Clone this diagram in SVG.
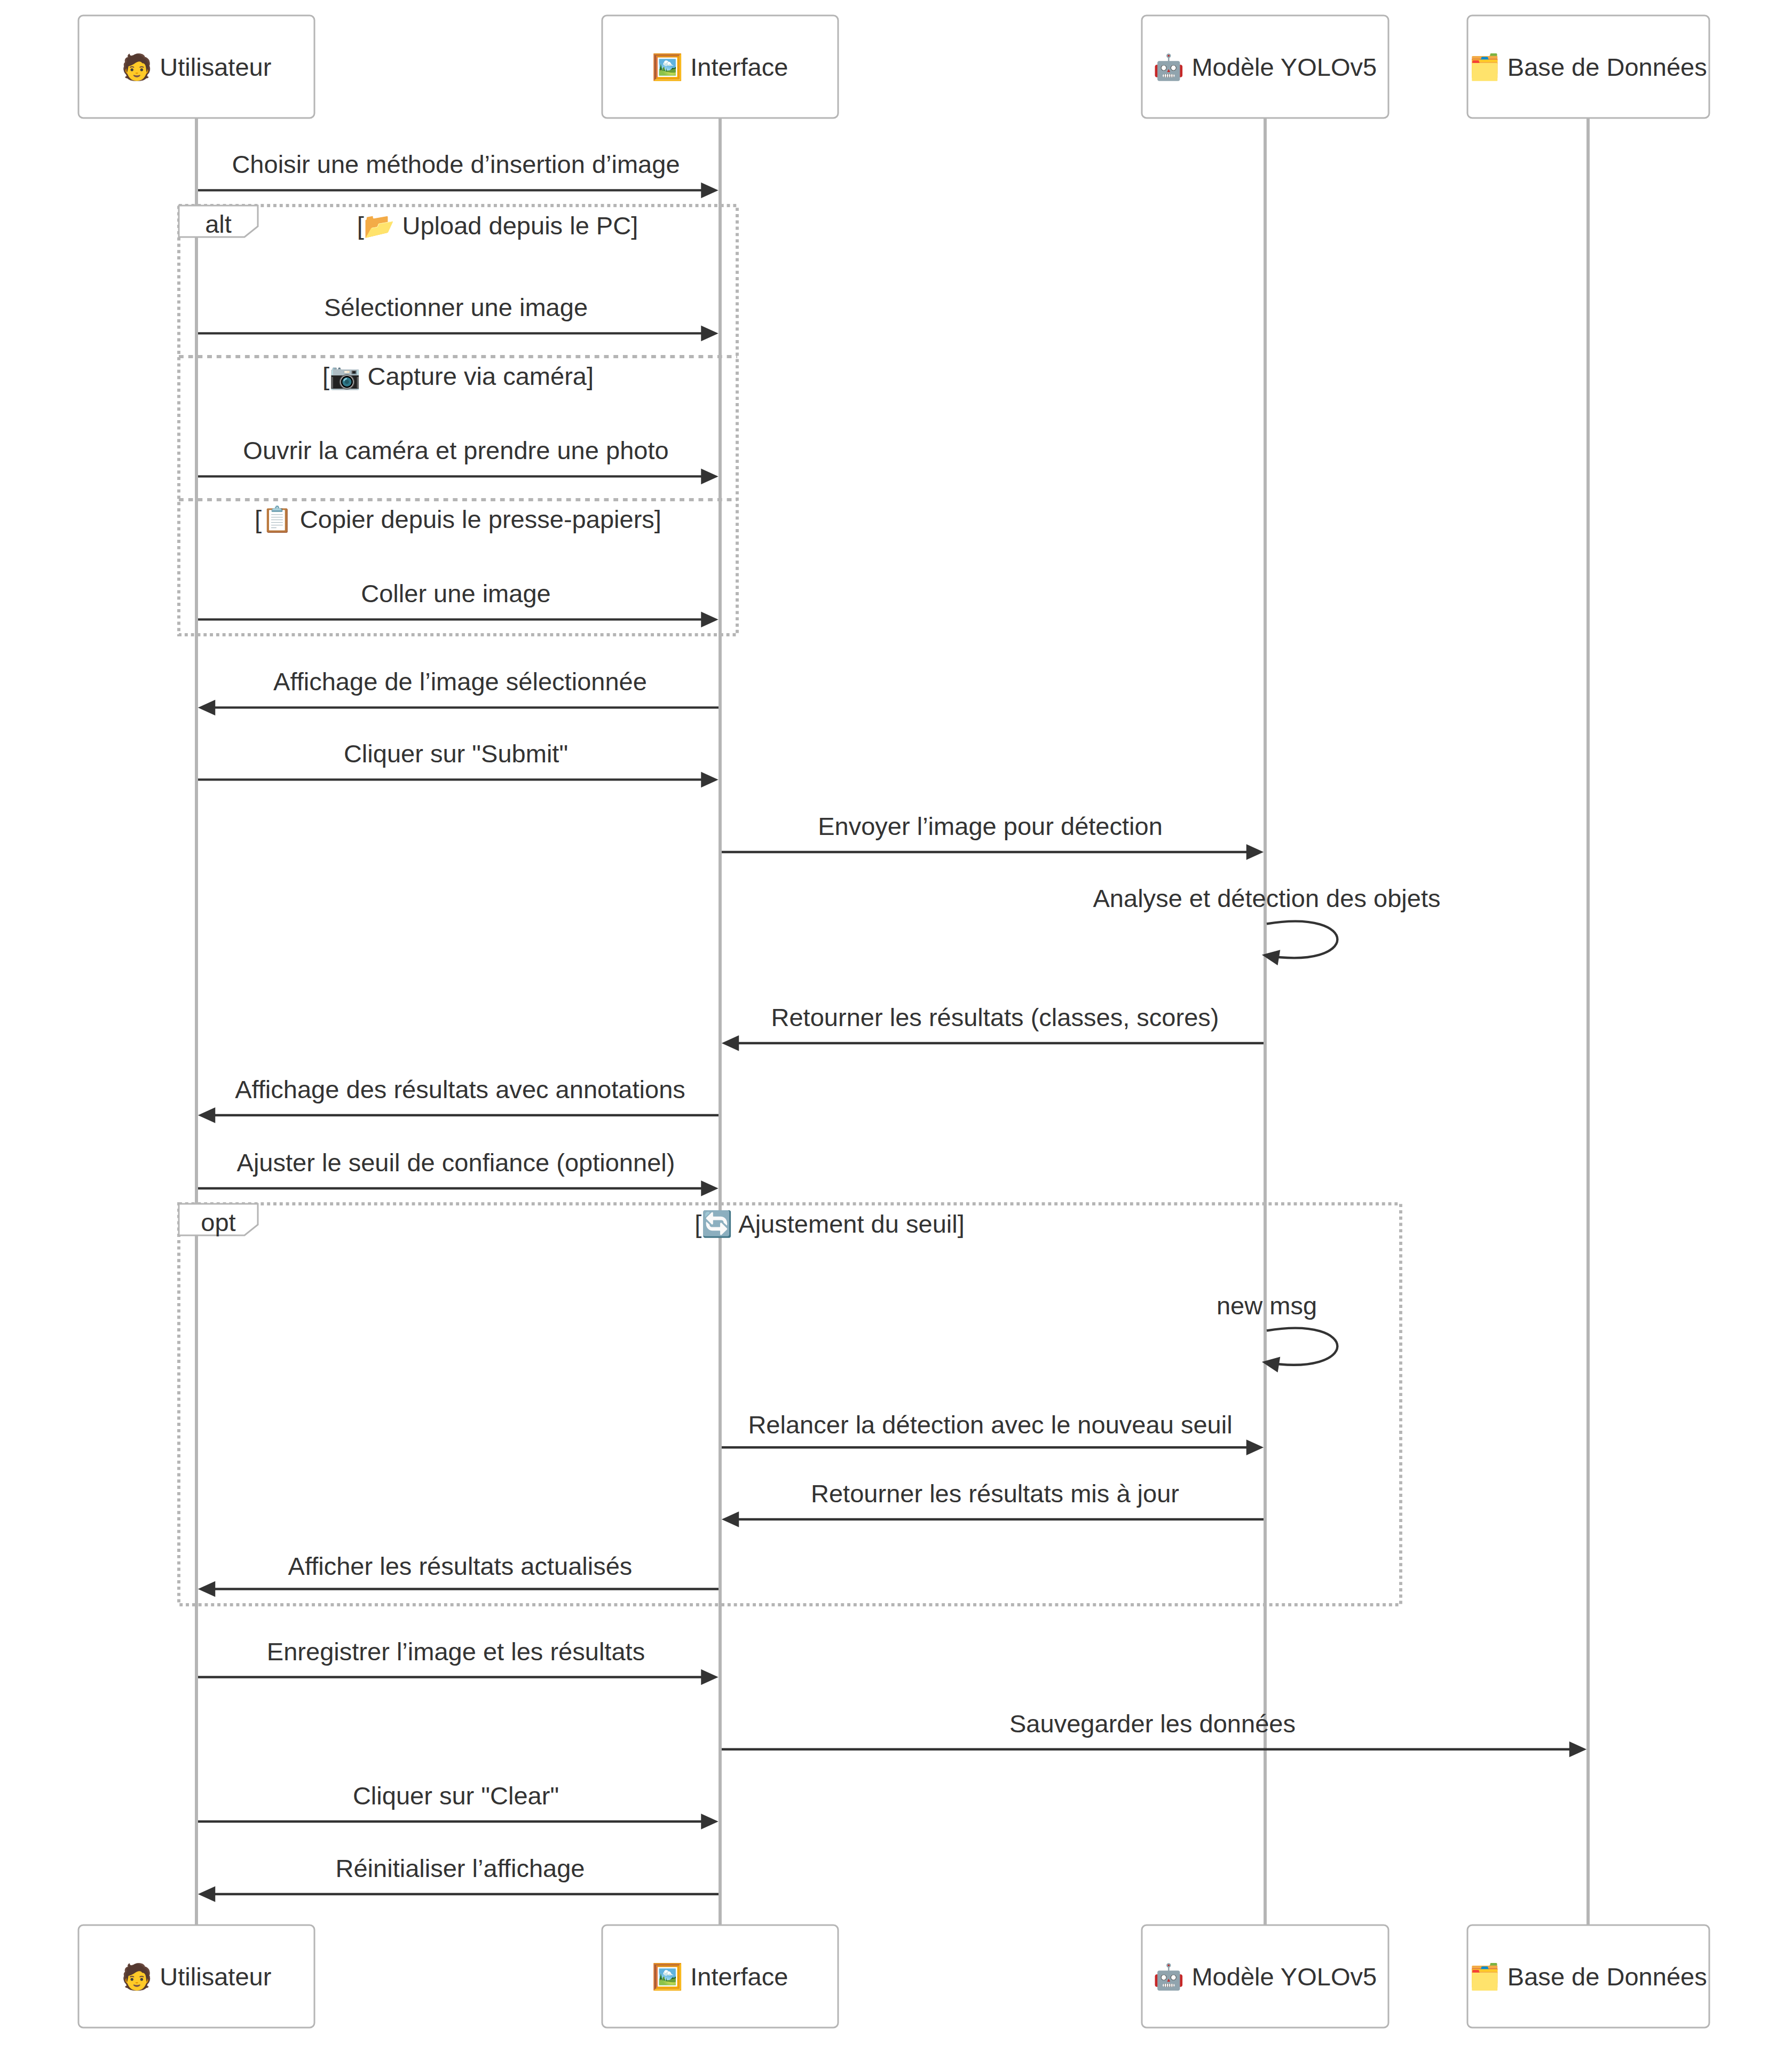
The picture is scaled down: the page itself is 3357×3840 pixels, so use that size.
<svg xmlns="http://www.w3.org/2000/svg" width="3357" height="3840" viewBox="0 0 3357 3840">
<style>
text{font-family:"Liberation Sans",Arial,"Noto Color Emoji",sans-serif;fill:#333;font-size:47.04px;text-anchor:middle}
.actor{fill:#fff;stroke:#b5b5b5;stroke-width:3}
.life{stroke:#b5b5b5;stroke-width:5.9;fill:none}
.msg{stroke:#333;stroke-width:4.4;fill:none;marker-end:url(#arrow)}
.frame{stroke:#b5b5b5;stroke-width:5.9;stroke-dasharray:5.9 5.9;fill:none}
.div{stroke:#b5b5b5;stroke-width:5.9;stroke-dasharray:8.85 8.85;fill:none}
.tag{fill:#fff;stroke:#b5b5b5;stroke-width:3}
.c{dominant-baseline:central}
</style>
<defs><marker id="arrow" markerUnits="userSpaceOnUse" markerWidth="35.4" markerHeight="35.4" viewBox="0 0 12 12" refX="7.9" refY="5" orient="auto" overflow="visible"><path d="M-1 0L10 5L-1 10z" fill="#333"/></marker></defs>
<rect width="3357" height="3840" fill="#fff"/>
<g id="lifelines">
<line class="life" x1="368" y1="221" x2="368" y2="3606"/>
<line class="life" x1="1349" y1="221" x2="1349" y2="3606"/>
<line class="life" x1="2370" y1="221" x2="2370" y2="3606"/>
<line class="life" x1="2975" y1="221" x2="2975" y2="3606"/>
</g>
<g id="frame-alt">
<rect class="frame" x="335" y="385" width="1046" height="804"/>
<line class="div" x1="335" y1="668" x2="1381" y2="668"/>
<line class="div" x1="335" y1="936" x2="1381" y2="936"/>
<path class="tag" d="M335 385H483V424L458 444H335Z"/>
<text x="409" y="436">alt</text>
<text x="932" y="439">[📂 Upload depuis le PC]</text>
<text x="858" y="721">[📷 Capture via caméra]</text>
<text x="858" y="989">[📋 Copier depuis le presse-papiers]</text>
</g>
<g id="frame-opt">
<rect class="frame" x="335" y="2255" width="2289" height="751"/>
<path class="tag" d="M335 2255H483V2294L458 2314H335Z"/>
<text x="409" y="2306">opt</text>
<text x="1554" y="2309">[🔄 Ajustement du seuil]</text>
</g>
<g id="connectors">
<line class="msg" x1="371" y1="356.400" x2="1339.500" y2="356.400"/>
<line class="msg" x1="371" y1="624.400" x2="1339.500" y2="624.400"/>
<line class="msg" x1="371" y1="892.400" x2="1339.500" y2="892.400"/>
<line class="msg" x1="371" y1="1160.400" x2="1339.500" y2="1160.400"/>
<line class="msg" x1="1346" y1="1325.400" x2="377" y2="1325.400"/>
<line class="msg" x1="371" y1="1460.400" x2="1339.500" y2="1460.400"/>
<line class="msg" x1="1352" y1="1596" x2="2361" y2="1596"/>
<path class="msg" d="M2373 1730.500C2550 1701 2550 1819 2370 1789.500"/>
<line class="msg" x1="2367" y1="1954" x2="1358" y2="1954"/>
<line class="msg" x1="1346" y1="2089" x2="377" y2="2089"/>
<line class="msg" x1="371" y1="2226" x2="1339.500" y2="2226"/>
<path class="msg" d="M2373 2492.500C2550 2463 2550 2581 2370 2552"/>
<line class="msg" x1="1352" y1="2711.300" x2="2361" y2="2711.300"/>
<line class="msg" x1="2367" y1="2846" x2="1358" y2="2846"/>
<line class="msg" x1="1346" y1="2976.500" x2="377" y2="2976.500"/>
<line class="msg" x1="371" y1="3141.500" x2="1339.500" y2="3141.500"/>
<line class="msg" x1="1352" y1="3276.700" x2="2966" y2="3276.700"/>
<line class="msg" x1="371" y1="3412" x2="1339.500" y2="3412"/>
<line class="msg" x1="1346" y1="3548" x2="377" y2="3548"/>
</g>
<g id="labels">
<text x="854" y="323.500">Choisir une méthode d’insertion d’image</text>
<text x="854" y="592">Sélectionner une image</text>
<text x="854" y="860">Ouvrir la caméra et prendre une photo</text>
<text x="854" y="1128">Coller une image</text>
<text x="862" y="1293">Affichage de l’image sélectionnée</text>
<text x="854" y="1428">Cliquer sur "Submit"</text>
<text x="1855" y="1564">Envoyer l’image pour détection</text>
<text x="2373" y="1698.500">Analyse et détection des objets</text>
<text x="1864" y="1922">Retourner les résultats (classes, scores)</text>
<text x="862" y="2057">Affichage des résultats avec annotations</text>
<text x="854" y="2194">Ajuster le seuil de confiance (optionnel)</text>
<text x="2373" y="2462">new msg</text>
<text x="1855" y="2684.500">Relancer la détection avec le nouveau seuil</text>
<text x="1864" y="2814">Retourner les résultats mis à jour</text>
<text x="862" y="2950">Afficher les résultats actualisés</text>
<text x="854" y="3109.500">Enregistrer l’image et les résultats</text>
<text x="2159" y="3245">Sauvegarder les données</text>
<text x="854" y="3380">Cliquer sur "Clear"</text>
<text x="862" y="3516">Réinitialiser l’affichage</text>
</g>
<g id="actor-user-top"><rect class="actor" x="147" y="29" width="442" height="192" rx="8.850"/><text class="c" x="368" y="125">🧑 Utilisateur</text></g>
<g id="actor-interface-top"><rect class="actor" x="1128" y="29" width="442" height="192" rx="8.850"/><text class="c" x="1349" y="125">🖼️ Interface</text></g>
<g id="actor-model-top"><rect class="actor" x="2139" y="29" width="462" height="192" rx="8.850"/><text class="c" x="2370" y="125">🤖 Modèle YOLOv5</text></g>
<g id="actor-db-top"><rect class="actor" x="2749" y="29" width="453" height="192" rx="8.850"/><text class="c" x="2975" y="125">🗂️ Base de Données</text></g>
<g id="actor-user-bottom"><rect class="actor" x="147" y="3606" width="442" height="192" rx="8.850"/><text class="c" x="368" y="3702">🧑 Utilisateur</text></g>
<g id="actor-interface-bottom"><rect class="actor" x="1128" y="3606" width="442" height="192" rx="8.850"/><text class="c" x="1349" y="3702">🖼️ Interface</text></g>
<g id="actor-model-bottom"><rect class="actor" x="2139" y="3606" width="462" height="192" rx="8.850"/><text class="c" x="2370" y="3702">🤖 Modèle YOLOv5</text></g>
<g id="actor-db-bottom"><rect class="actor" x="2749" y="3606" width="453" height="192" rx="8.850"/><text class="c" x="2975" y="3702">🗂️ Base de Données</text></g>
</svg>
